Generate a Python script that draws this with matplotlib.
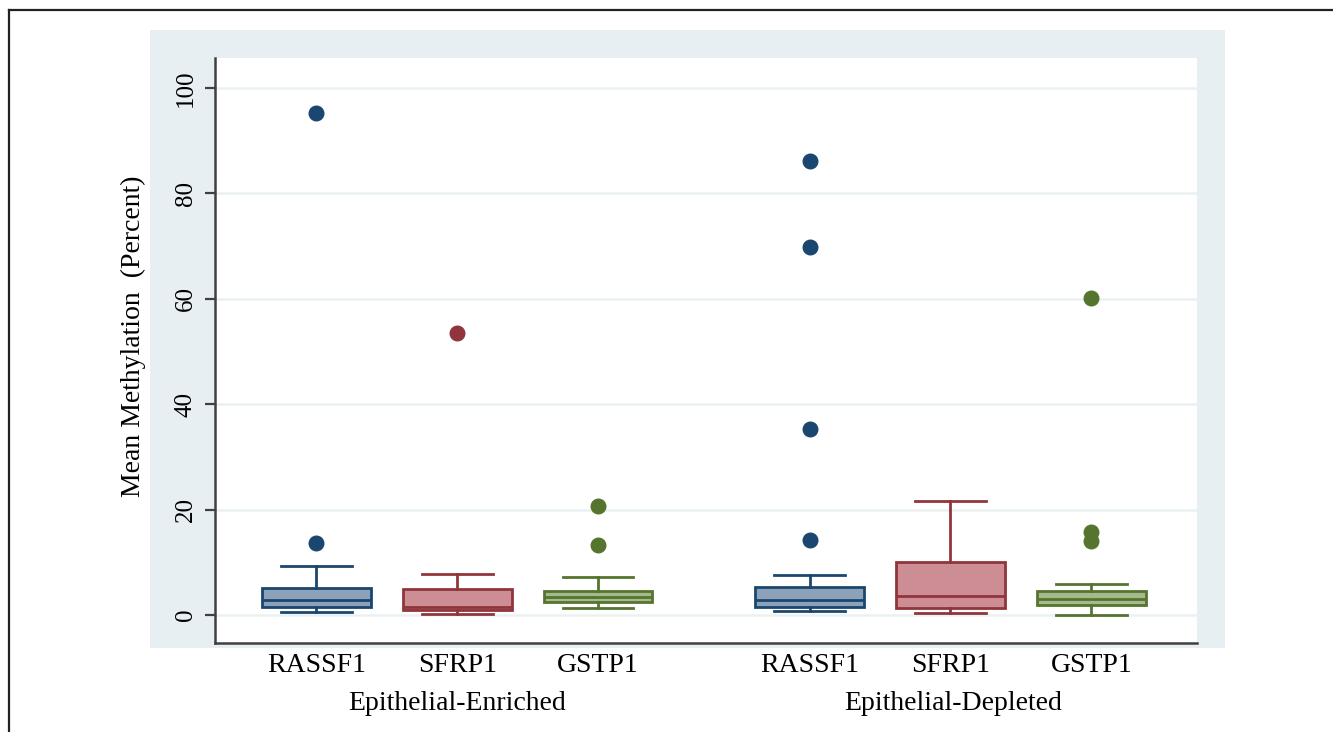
import numpy as np
import matplotlib.pyplot as plt
from matplotlib.patches import Rectangle
from matplotlib.lines import Line2D

plt.rcParams['font.family'] = ['Liberation Serif', 'DejaVu Serif']

genes = ['RASSF1', 'SFRP1', 'GSTP1', 'RASSF1', 'SFRP1', 'GSTP1']
groups = ['Epithelial-Enriched', 'Epithelial-Depleted']
positions = [1, 2, 3, 4.5, 5.5, 6.5]

# box summaries (percent)
whislo = [0.6, 0.2, 1.3, 0.8, 0.4, 0.0]
q1 = [1.5, 1.0, 2.5, 1.5, 1.3, 1.9]
med = [2.8, 1.5, 3.5, 2.8, 3.6, 3.0]
q3 = [5.1, 4.9, 4.5, 5.3, 10.1, 4.5]
whishi = [9.3, 7.7, 7.3, 7.6, 21.6, 5.9]
outliers = [
    [13.7, 95.3],
    [53.6],
    [13.3, 20.7],
    [14.3, 35.3, 69.8, 86.2],
    [],
    [14.0, 15.8, 60.1],
]

edge_colors = ['#1a476f', '#90353b', '#55752f'] * 2
fill_colors = ['#8da1b9', '#cd8d94', '#a4b98c'] * 2

fig = plt.figure(figsize=(13.33, 7.32), dpi=100)

# light bluish plot region
fig.patches.append(Rectangle((150 / 1333, 84 / 732), 1075 / 1333, 618 / 732,
                             transform=fig.transFigure, facecolor='#e8eff2',
                             edgecolor='none', zorder=-5))
# outer frame (top and left)
fig.lines.append(Line2D([9 / 1333, 1], [1 - 10 / 732, 1 - 10 / 732],
                        transform=fig.transFigure, color='#222222', lw=1.6))
fig.lines.append(Line2D([9 / 1333, 9 / 1333], [0, 1 - 10 / 732],
                        transform=fig.transFigure, color='#222222', lw=1.6))

ax = fig.add_axes([215 / 1333, 89 / 732, 982 / 1333, 585 / 732])
ax.set_facecolor('white')

for i in range(len(genes)):
    stats = [dict(whislo=whislo[i], q1=q1[i], med=med[i], q3=q3[i],
                  whishi=whishi[i], fliers=outliers[i])]
    c = edge_colors[i]
    ax.bxp(stats, positions=[positions[i]], widths=0.77, patch_artist=True,
           showfliers=True, capwidths=0.5,
           boxprops=dict(facecolor=fill_colors[i], edgecolor=c, linewidth=2),
           medianprops=dict(color=c, linewidth=2),
           whiskerprops=dict(color=c, linewidth=2),
           capprops=dict(color=c, linewidth=2),
           flierprops=dict(marker='o', markerfacecolor=c, markeredgecolor=c,
                           markersize=10.5))

ax.set_xlim(0.28, 7.25)
ax.set_ylim(-5.3, 105.7)
ax.set_yticks([0, 20, 40, 60, 80, 100])
ax.yaxis.grid(True, color='#ebf1f3', linewidth=1.8)
ax.set_axisbelow(True)
ax.set_xticks(positions)
ax.set_xticklabels(genes, fontsize=20)
ax.tick_params(axis='x', length=0, pad=7)
ax.tick_params(axis='y', length=7, width=1.6, color='#404040', pad=6,
               labelsize=18)
for lab in ax.get_yticklabels():
    lab.set_rotation(90)
    lab.set_va('center')
for s in ['top', 'right']:
    ax.spines[s].set_visible(False)
for s in ['left', 'bottom']:
    ax.spines[s].set_color('#404040')
    ax.spines[s].set_linewidth(1.8)

fig.text(133 / 1333, 1 - 336 / 732, 'Mean Methylation  (Percent)', rotation=90,
         ha='center', va='center', fontsize=20)
fig.text(457 / 1333, 1 - 703 / 732, groups[0], ha='center', va='center',
         fontsize=20)
fig.text(953 / 1333, 1 - 703 / 732, groups[1], ha='center', va='center',
         fontsize=20)

fig.savefig('out.png', dpi=100)
